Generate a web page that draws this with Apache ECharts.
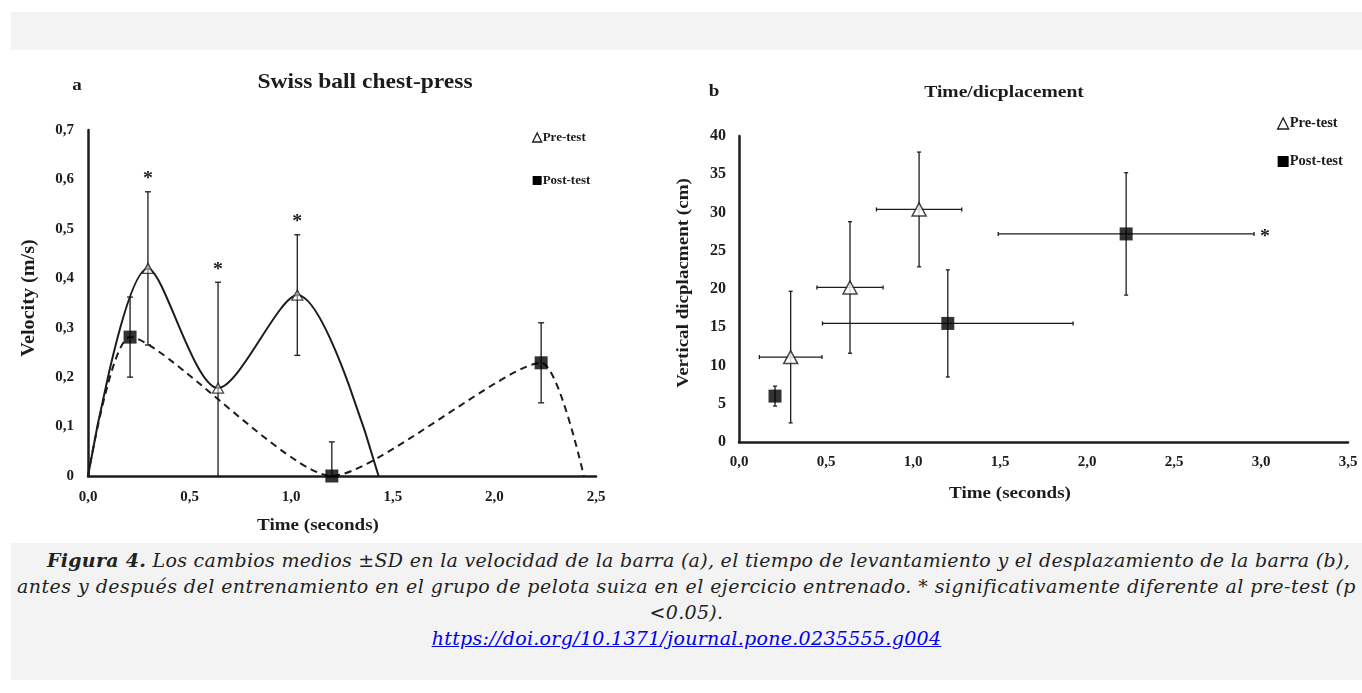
<!DOCTYPE html>
<html>
<head>
<meta charset="utf-8">
<script src="https://cdn.jsdelivr.net/npm/echarts@6/dist/echarts.min.js"></script>
<style>
  html, body { margin: 0; padding: 0; background: #ffffff; width: 1362px; height: 693px; overflow: hidden; }
  #band { position: absolute; left: 11px; top: 12px; width: 1351px; height: 38px; background: #f3f3f3; }
  #chart { position: absolute; left: 0; top: 50px; width: 1362px; height: 493px; }
  #caption { position: absolute; left: 11px; top: 543px; width: 1351px; height: 137px; background: #f3f3f3;
    font-family: 'DejaVu Serif', serif; font-style: italic; letter-spacing: 0.3px;
    font-size: 19px; line-height: 26px; text-align: center; color: #222; white-space: nowrap; padding-top: 4px; box-sizing: border-box; }
  #caption a { color: #0000ee; }
  #caption .l1 { position: relative; left: 12px; }
  #caption .l2 { letter-spacing: 0.45px; }
</style>
</head>
<body>
<div id="band"></div>
<div id="chart"></div>
<div id="caption"><span class="l1"><b>Figura 4.</b> Los cambios medios ±SD en la velocidad de la barra (a), el tiempo de levantamiento y el desplazamiento de la barra (b),</span><br><span class="l2">antes y después del entrenamiento en el grupo de pelota suiza en el ejercicio entrenado. * significativamente diferente al pre-test (p</span><br>&lt;0.05).<br><a href="https://doi.org/10.1371/journal.pone.0235555.g004">https://doi.org/10.1371/journal.pone.0235555.g004</a></div>
<script>
// ---------- Panel a: velocity over time ----------
const preCurveTime = [0, 0.295, 0.64, 1.03, 1.43];
const preCurveVel  = [0, 0.42, 0.178, 0.366, 0];
const preVelSD     = [0.155, 0.214, 0.122];        // for the three measured points (indices 1..3)
const preVelSig    = [1, 1, 1];

const postCurveTime = [0, 0.207, 1.2, 2.23, 2.44];
const postCurveVel  = [0, 0.281, 0, 0.229, 0];
const postVelSD     = [0.081, 0.069, 0.081];
const postVelSig    = [0, 0, 0];

const xTicksA = [0, 0.5, 1, 1.5, 2, 2.5];
const yTicksA = [0, 0.1, 0.2, 0.3, 0.4, 0.5, 0.6, 0.7];

// ---------- Panel b: time vs displacement ----------
const preTimeB   = [0.297, 0.638, 1.035];
const preTimeSD  = [0.18, 0.19, 0.245];
const preDisp    = [11.1, 20.2, 30.4];
const preDispSD  = [8.6, 8.6, 7.5];
const preSigB    = [0, 0, 0];

const postTimeB  = [0.207, 1.2, 2.225];
const postTimeSD = [0, 0.72, 0.735];
const postDisp   = [6.0, 15.5, 27.2];
const postDispSD = [1.3, 7.0, 8.0];
const postSigB   = [0, 0, 1];

const FONT = "'Liberation Serif', 'Times New Roman', serif";
const INK = '#1c1c1c';

function comma1(v) { return v === 0 ? '0,0' : v.toFixed(1).replace('.', ','); }
function commaY(v) { return v === 0 ? '0' : v.toFixed(1).replace('.', ','); }

const preA  = preCurveTime.slice(1, -1).map((t, i) => [t, preCurveVel[i + 1], preVelSD[i], preVelSig[i]]);
const postA = postCurveTime.slice(1, -1).map((t, i) => [t, postCurveVel[i + 1], postVelSD[i], postVelSig[i]]);
const preB  = preTimeB.map((t, i) => [t, preDisp[i], preTimeSD[i], preDispSD[i], preSigB[i]]);
const postB = postTimeB.map((t, i) => [t, postDisp[i], postTimeSD[i], postDispSD[i], postSigB[i]]);

function errA(params, api) {
  const x = api.value(0), y = api.value(1), sd = api.value(2), sig = api.value(3);
  const top = api.coord([x, y + sd]);
  const bot = api.coord([x, Math.max(0, y - sd)]);
  const cap = 3;
  const st = { stroke: INK, lineWidth: 1.3 };
  const kids = [
    { type: 'line', shape: { x1: top[0], y1: top[1], x2: bot[0], y2: bot[1] }, style: st },
    { type: 'line', shape: { x1: top[0] - cap, y1: top[1], x2: top[0] + cap, y2: top[1] }, style: st }
  ];
  if (y - sd > 0) kids.push({ type: 'line', shape: { x1: bot[0] - cap, y1: bot[1], x2: bot[0] + cap, y2: bot[1] }, style: st });
  if (sig) kids.push({ type: 'text', x: top[0], y: top[1] - 12, scaleX: 1.1,
    style: { text: '*', font: 'bold 18px ' + FONT, fill: INK, align: 'center', verticalAlign: 'middle' } });
  return { type: 'group', children: kids };
}

function errB(params, api) {
  const x = api.value(0), y = api.value(1), xs = api.value(2), ys = api.value(3), sig = api.value(4);
  const t = api.coord([x, y + ys]), b = api.coord([x, y - ys]);
  const l = api.coord([x - xs, y]), r = api.coord([x + xs, y]);
  const cap = 2;
  const st = { stroke: INK, lineWidth: 1.3 };
  const kids = [
    { type: 'line', shape: { x1: t[0], y1: t[1], x2: b[0], y2: b[1] }, style: st },
    { type: 'line', shape: { x1: t[0] - cap, y1: t[1], x2: t[0] + cap, y2: t[1] }, style: st },
    { type: 'line', shape: { x1: b[0] - cap, y1: b[1], x2: b[0] + cap, y2: b[1] }, style: st }
  ];
  if (xs > 0) {
    kids.push({ type: 'line', shape: { x1: l[0], y1: l[1], x2: r[0], y2: r[1] }, style: st });
    kids.push({ type: 'line', shape: { x1: l[0], y1: l[1] - cap, x2: l[0], y2: l[1] + cap }, style: st });
    kids.push({ type: 'line', shape: { x1: r[0], y1: r[1] - cap, x2: r[0], y2: r[1] + cap }, style: st });
  }
  if (sig) kids.push({ type: 'text', x: r[0] + 11, y: r[1] + 3, scaleX: 1.1,
    style: { text: '*', font: 'bold 18px ' + FONT, fill: INK, align: 'center', verticalAlign: 'middle' } });
  return { type: 'group', children: kids };
}

const chart = echarts.init(document.getElementById('chart'), null, { renderer: 'canvas' });

const axisCommon = {
  type: 'value',
  splitLine: { show: false },
  axisTick: { show: false },
  axisLine: { show: true, onZero: false, lineStyle: { color: INK, width: 2.5 } },
  axisLabel: { color: INK, fontFamily: FONT, fontWeight: 'bold', fontSize: 15 }
};

const txt = (x, y, s, size, rot) => ({
  type: 'text', x: x, y: y, rotation: rot || 0, scaleX: 1.12,
  style: { text: s, font: 'bold ' + size + 'px ' + FONT, fill: INK, align: 'center', verticalAlign: 'middle' }
});

const option = {
  backgroundColor: '#ffffff',
  animation: false,
  grid: [
    { left: 88, top: 80, width: 508, height: 346 },
    { left: 739, top: 86, width: 609, height: 306 }
  ],
  xAxis: [
    Object.assign({}, axisCommon, { gridIndex: 0, min: xTicksA[0], max: xTicksA[xTicksA.length - 1], interval: 0.5,
      axisLabel: Object.assign({}, axisCommon.axisLabel, { margin: 14, formatter: comma1 }) }),
    Object.assign({}, axisCommon, { gridIndex: 1, min: 0, max: 3.5, interval: 0.5,
      axisLabel: Object.assign({}, axisCommon.axisLabel, { margin: 13, formatter: comma1 }) })
  ],
  yAxis: [
    Object.assign({}, axisCommon, { gridIndex: 0, min: yTicksA[0], max: yTicksA[yTicksA.length - 1], interval: 0.1,
      axisLabel: Object.assign({}, axisCommon.axisLabel, { margin: 14, formatter: commaY }) }),
    Object.assign({}, axisCommon, { gridIndex: 1, min: 0, max: 40, interval: 5,
      axisLabel: Object.assign({}, axisCommon.axisLabel, { margin: 13, fontSize: 16 }) })
  ],
  legend: [
    { left: 527, top: 76, orient: 'vertical', itemGap: 30, itemWidth: 9, itemHeight: 9,
      textStyle: { fontFamily: FONT, fontWeight: 'bold', fontSize: 13, color: INK, padding: [0, 0, 0, -4] },
      data: [
        { name: 'Pre-test', icon: 'triangle', itemStyle: { color: '#fff', borderColor: INK, borderWidth: 1.3 } },
        { name: 'Post-test', icon: 'rect', itemStyle: { color: '#000', borderWidth: 0 } }
      ] },
    { left: 1272, top: 61, orient: 'vertical', itemGap: 23, itemWidth: 11, itemHeight: 11,
      textStyle: { fontFamily: FONT, fontWeight: 'bold', fontSize: 14.5, color: INK, padding: [0, 0, 0, -4] },
      data: [
        { name: 'Pre-test', icon: 'triangle', itemStyle: { color: '#fff', borderColor: INK, borderWidth: 1.3 } },
        { name: 'Post-test', icon: 'rect', itemStyle: { color: '#000', borderWidth: 0 } }
      ] }
  ],
  graphic: [
    txt(77, 36, 'a', 17),
    txt(365, 33, 'Swiss ball chest-press', 21),
    txt(714, 42, 'b', 17),
    txt(1004, 42, 'Time/dicplacement', 17.5),
    txt(29, 248, 'Velocity (m/s)', 18, Math.PI / 2),
    txt(318, 476, 'Time (seconds)', 17),
    txt(684, 233, 'Vertical dicplacment (cm)', 17, Math.PI / 2),
    txt(1010, 444, 'Time (seconds)', 17)
  ],
  series: [
    { name: 'Pre-test', type: 'line', xAxisIndex: 0, yAxisIndex: 0, smooth: 0.3, showSymbol: false, symbol: 'none',
      data: preCurveTime.map((t, i) => [t, preCurveVel[i]]),
      lineStyle: { color: INK, width: 2 }, itemStyle: { color: '#fff', borderColor: INK }, z: 2 },
    { name: 'Post-test', type: 'line', xAxisIndex: 0, yAxisIndex: 0, smooth: 0.2, showSymbol: false, symbol: 'none',
      data: postCurveTime.map((t, i) => [t, postCurveVel[i]]),
      lineStyle: { color: INK, width: 2, type: [7, 5] }, itemStyle: { color: '#000' }, z: 2 },
    { name: 'errA-pre', type: 'custom', xAxisIndex: 0, yAxisIndex: 0, renderItem: errA, data: preA, z: 3, silent: true },
    { name: 'errA-post', type: 'custom', xAxisIndex: 0, yAxisIndex: 0, renderItem: errA, data: postA, z: 3, silent: true },
    { name: 'Pre-test', type: 'scatter', xAxisIndex: 0, yAxisIndex: 0, symbol: 'triangle', symbolSize: [11, 10],
      data: preA.map(d => [d[0], d[1]]), itemStyle: { color: 'rgba(255,255,255,0.6)', borderColor: INK, borderWidth: 1.3 }, z: 4 },
    { name: 'Post-test', type: 'scatter', xAxisIndex: 0, yAxisIndex: 0, symbol: 'rect', symbolSize: 13,
      data: postA.map(d => [d[0], d[1]]), itemStyle: { color: '#000' }, z: 4 },

    { name: 'errB-pre', type: 'custom', xAxisIndex: 1, yAxisIndex: 1, renderItem: errB, data: preB, z: 3, silent: true },
    { name: 'errB-post', type: 'custom', xAxisIndex: 1, yAxisIndex: 1, renderItem: errB, data: postB, z: 3, silent: true },
    { name: 'Pre-test', type: 'scatter', xAxisIndex: 1, yAxisIndex: 1, symbol: 'triangle', symbolSize: [14, 13],
      data: preB.map(d => [d[0], d[1]]), itemStyle: { color: '#fff', borderColor: INK, borderWidth: 1.5 }, z: 4 },
    { name: 'Post-test', type: 'scatter', xAxisIndex: 1, yAxisIndex: 1, symbol: 'rect', symbolSize: 13,
      data: postB.map(d => [d[0], d[1]]), itemStyle: { color: '#000' }, z: 4 }
  ]
};
chart.setOption(option);
</script>
</body>
</html>
